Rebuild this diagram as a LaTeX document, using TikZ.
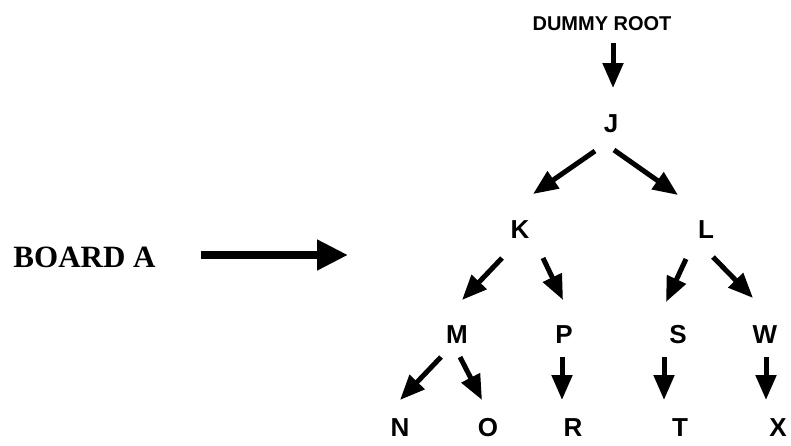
\documentclass[tikz,border=0pt]{standalone}
\usepackage{fontspec}
\setmainfont{Liberation Serif}
\newfontfamily\hv{Liberation Sans}
\usetikzlibrary{arrows.meta}
\begin{document}
\begin{tikzpicture}[x=1pt,y=-1pt,
  lbl/.style={inner sep=0pt,font=\hv\bfseries\fontsize{26}{26}\selectfont},
  rootlbl/.style={inner sep=0pt,font=\hv\bfseries\fontsize{20}{20}\selectfont},
  boardlbl/.style={inner sep=0pt,font=\bfseries\fontsize{31}{31}\selectfont},
  treearr/.style={line width=5pt,-{Triangle[length=25pt,width=20pt]}},
  bigarr/.style={line width=7.5pt,-{Triangle[length=31pt,width=29pt]}}]
\useasboundingbox (0,0) rectangle (791,445);
\node[rootlbl] (root) at (602,24) {DUMMY ROOT};
\node[lbl] (J) at (611,124) {J};
\node[lbl] (K) at (520,230) {K};
\node[lbl] (L) at (706,230) {L};
\node[lbl] (M) at (457,335) {M};
\node[lbl] (P) at (564,335) {P};
\node[lbl] (S) at (678,335) {S};
\node[lbl] (W) at (765,335) {W};
\node[lbl] (N) at (400,428) {N};
\node[lbl] (O) at (488,428) {O};
\node[lbl] (R) at (573,428) {R};
\node[lbl] (T) at (680,428) {T};
\node[lbl] (X) at (778,428) {X};
\node[boardlbl] (board) at (84.5,257) {BOARD A};
\coordinate (tip) at (348,255);
\draw[bigarr] ([shift={(45,-2)}]board.east) -- (tip);
\draw[treearr] ([shift={(11,19)}]root.center) -- ([shift={(2,-36)}]J.center);
\draw[treearr] ([shift={(-16,27)}]J.center) -- ([shift={(13,-36)}]K.center);
\draw[treearr] ([shift={(3,26)}]J.center) -- ([shift={(-28,-35)}]L.center);
\draw[treearr] ([shift={(-18,28)}]K.center) -- ([shift={(5,-35)}]M.center);
\draw[treearr] ([shift={(23,28)}]K.center) -- ([shift={(-1,-35)}]P.center);
\draw[treearr] ([shift={(-20,29)}]L.center) -- ([shift={(-12,-33)}]S.center);
\draw[treearr] ([shift={(7,27)}]L.center) -- ([shift={(-12,-37)}]W.center);
\draw[treearr] ([shift={(-16,22)}]M.center) -- ([shift={(0,-28)}]N.center);
\draw[treearr] ([shift={(3,22)}]M.center) -- ([shift={(-6,-28)}]O.center);
\draw[treearr] ([shift={(-2,22)}]P.center) -- ([shift={(-11,-28)}]R.center);
\draw[treearr] ([shift={(-14,22)}]S.center) -- ([shift={(-16,-28)}]T.center);
\draw[treearr] ([shift={(1,22)}]W.center) -- ([shift={(-12,-28)}]X.center);
\end{tikzpicture}
\end{document}
